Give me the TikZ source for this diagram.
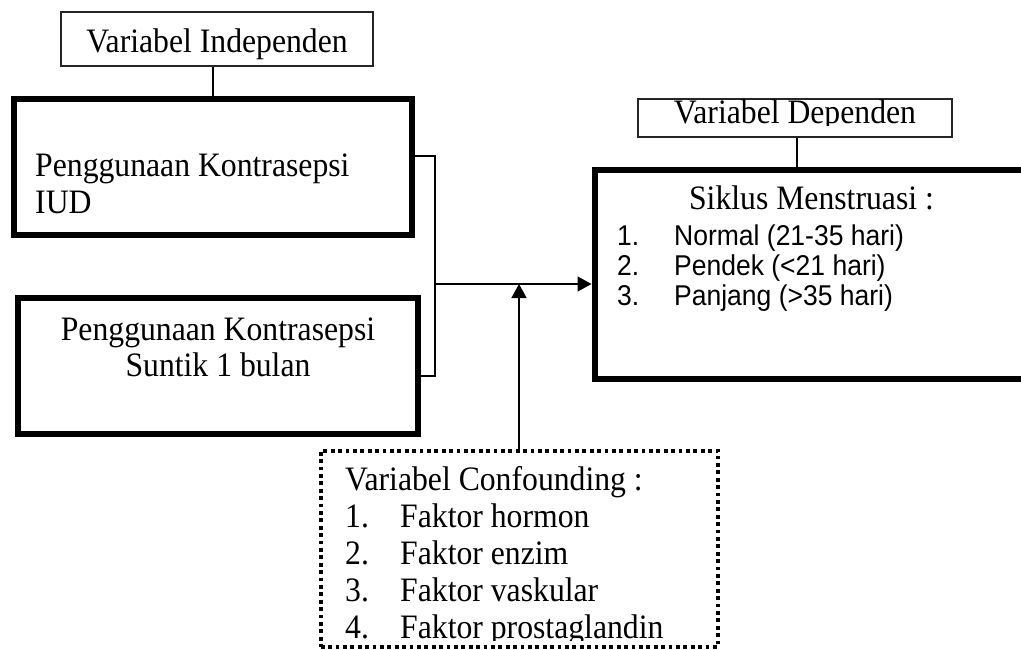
\documentclass[tikz,border=0pt]{standalone}
\usepackage{graphicx}
\usepackage{fontspec}
\setmainfont{Liberation Serif}
\newfontfamily\arialf{Liberation Sans}
\usetikzlibrary{arrows.meta}
\newcommand\vst[1]{\scalebox{1}[1.08]{#1}}
\tikzset{
  thickbox/.style={draw=black, line width=6pt, rectangle, inner sep=0pt},
  headbox/.style={draw=black!85, line width=1.2pt, rectangle, inner sep=0pt},
  dotbox/.style={draw=black, line width=3.8pt, dash pattern=on 3.8pt off 3.6pt, rectangle, inner sep=0pt},
  conn/.style={draw=black, line width=1.6pt},
  arr/.style={conn, -{Triangle[length=14pt,width=15pt]}},
  serif/.style={inner sep=0pt, font=\fontsize{31.7}{37}\selectfont},
  sans/.style={inner sep=0pt, font=\arialf\fontsize{26.5}{30}\selectfont},
}
\begin{document}
\begin{tikzpicture}[x=1pt,y=-1pt]
\clip (0,0) rectangle (1021,650);
\fill[white] (0,0) rectangle (1021,650);

% header boxes
\node[headbox, minimum width=312pt, minimum height=54pt] (indep) at (217,39) {};
\node[serif, anchor=base] (indeptxt) at (217,53) {\vst{Variabel Independen}};

\node[headbox, minimum width=314pt, minimum height=38pt] (dep) at (795,118) {};
\begin{scope}
\clip (600,90) rectangle (1000,126);
\node[serif, anchor=base] (deptxt) at (795,124) {\vst{Variabel Dependen}};
\end{scope}

% main boxes
\node[thickbox, minimum width=397.5pt, minimum height=135.5pt] (iud) at (212.75,167.25) {};
\node[serif, anchor=base west] (iud1) at (35,177) {\vst{Penggunaan Kontrasepsi}};
\node[serif, anchor=base west] (iud2) at (35,214) {\vst{IUD}};

\node[thickbox, minimum width=400pt, minimum height=135.5pt] (sun) at (218,365.75) {};
\node[serif, anchor=base] (sun1) at (218,340) {\vst{Penggunaan Kontrasepsi}};
\node[serif, anchor=base] (sun2) at (218,376) {\vst{Suntik 1 bulan}};

\node[thickbox, minimum width=435.5pt, minimum height=208.5pt] (sik) at (812.25,274.25) {};
\node[serif, anchor=base] (siktitle) at (811.5,210) {\vst{Siklus Menstruasi :}};
\node[sans, anchor=base west] (sn1) at (617,245) {\vst{1.}};
\node[sans, anchor=base west] (st1) at (674,245) {\vst{Normal (21-35 hari)}};
\node[sans, anchor=base west] (sn2) at (617,275) {\vst{2.}};
\node[sans, anchor=base west] (st2) at (674,275) {\vst{Pendek (<21 hari)}};
\node[sans, anchor=base west] (sn3) at (617,305) {\vst{3.}};
\node[sans, anchor=base west] (st3) at (674,305) {\vst{Panjang (>35 hari)}};

% confounding box
\node[dotbox, minimum width=397.3pt, minimum height=196pt] (conf) at (519.35,548.7) {};
\node[serif, anchor=base west] (conftitle) at (345,490) {\vst{Variabel Confounding :}};
\node[serif, anchor=base west] (cn1) at (345,527) {\vst{1.}};
\node[serif, anchor=base west] (ct1) at (400,527) {\vst{Faktor hormon}};
\node[serif, anchor=base west] (cn2) at (345,564) {\vst{2.}};
\node[serif, anchor=base west] (ct2) at (400,564) {\vst{Faktor enzim}};
\node[serif, anchor=base west] (cn3) at (345,601) {\vst{3.}};
\node[serif, anchor=base west] (ct3) at (400,601) {\vst{Faktor vaskular}};
\begin{scope}
\clip (330,610) rectangle (710,640);
\node[serif, anchor=base west] (cn4) at (345,638) {\vst{4.}};
\node[serif, anchor=base west] (ct4) at (400,638) {\vst{Faktor prostaglandin}};
\end{scope}

% connectors
\draw[conn] (iud.north) -- (iud.north |- indep.south);
\draw[conn] (sik.north -| 797,0) -- (dep.south -| 797,0);

\coordinate (bt) at (435,156);
\coordinate (bb) at (435,376);
\coordinate (bm) at (435,284);
\coordinate (up) at (519,284);
\draw[conn] (bt -| iud.east) -- (bt) -- (bb) -- (bb -| sun.east);
\draw[arr] (bm) -- (bm -| sik.west);
\draw[arr] (conf.north -| up) -- (up);
\end{tikzpicture}
\end{document}
